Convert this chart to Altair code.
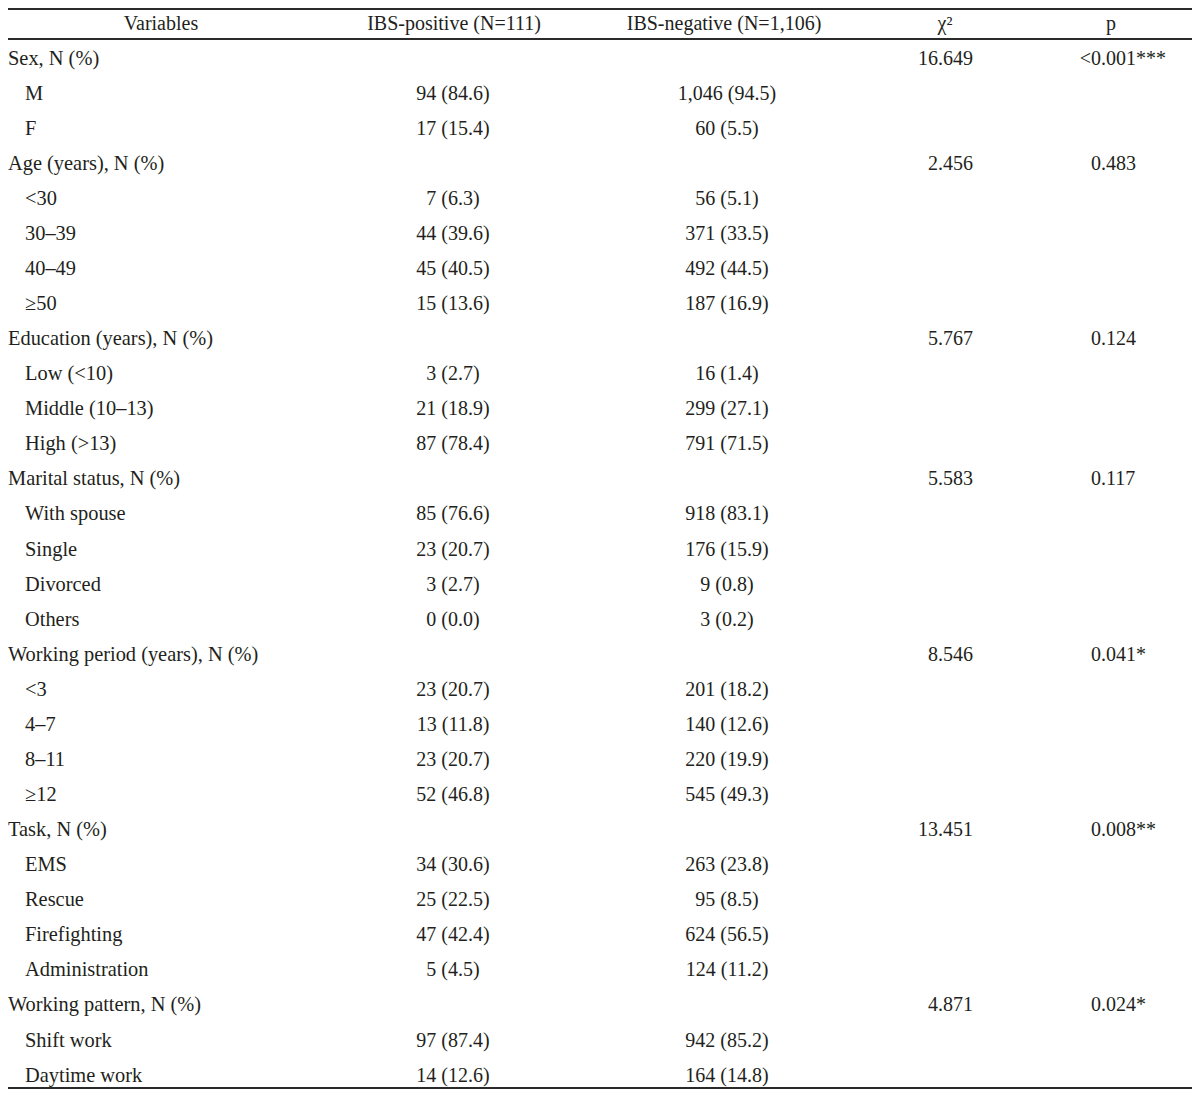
import altair as alt
import pandas as pd

# ---------------- data ----------------
variables = [
    "Sex, N (%)", "M", "F",
    "Age (years), N (%)", "<30", "30–39", "40–49", "≥50",
    "Education (years), N (%)", "Low (<10)", "Middle (10–13)", "High (>13)",
    "Marital status, N (%)", "With spouse", "Single", "Divorced", "Others",
    "Working period (years), N (%)", "<3", "4–7", "8–11", "≥12",
    "Task, N (%)", "EMS", "Rescue", "Firefighting", "Administration",
    "Working pattern, N (%)", "Shift work", "Daytime work",
]
is_group = [True, False, False,
            True, False, False, False, False,
            True, False, False, False,
            True, False, False, False, False,
            True, False, False, False, False,
            True, False, False, False, False,
            True, False, False]
pos_n = [None, 94, 17, None, 7, 44, 45, 15, None, 3, 21, 87, None, 85, 23, 3, 0,
         None, 23, 13, 23, 52, None, 34, 25, 47, 5, None, 97, 14]
pos_pct = [None, 84.6, 15.4, None, 6.3, 39.6, 40.5, 13.6, None, 2.7, 18.9, 78.4, None, 76.6, 20.7, 2.7, 0.0,
           None, 20.7, 11.8, 20.7, 46.8, None, 30.6, 22.5, 42.4, 4.5, None, 87.4, 12.6]
neg_n = [None, 1046, 60, None, 56, 371, 492, 187, None, 16, 299, 791, None, 918, 176, 9, 3,
         None, 201, 140, 220, 545, None, 263, 95, 624, 124, None, 942, 164]
neg_pct = [None, 94.5, 5.5, None, 5.1, 33.5, 44.5, 16.9, None, 1.4, 27.1, 71.5, None, 83.1, 15.9, 0.8, 0.2,
           None, 18.2, 12.6, 19.9, 49.3, None, 23.8, 8.5, 56.5, 11.2, None, 85.2, 14.8]
chi_sq = ["16.649", "", "", "2.456", "", "", "", "", "5.767", "", "", "", "5.583", "", "", "", "",
          "8.546", "", "", "", "", "13.451", "", "", "", "", "4.871", "", ""]
p_prefix = ["<", "", "", "", "", "", "", "", "", "", "", "", "", "", "", "", "",
            "", "", "", "", "", "", "", "", "", "", "", "", ""]
p_value = ["0.001***", "", "", "0.483", "", "", "", "", "0.124", "", "", "", "0.117", "", "", "", "",
           "0.041*", "", "", "", "", "0.008**", "", "", "", "", "0.024*", "", ""]
headers = ["Variables", "IBS-positive (N=111)", "IBS-negative (N=1,106)", "χ²", "p"]

# ---------------- layout (page pixel coordinates) ----------------
MARGIN = 8
CHART_W, CHART_H = 1184, 1081
BASE0, ROW_H = 29.5, 35.07          # header baseline and row pitch
COLX = {
    "group": 8, "sub": 25,
    "h0": 161, "h1": 454, "h2": 724, "h3": 945, "h4": 1111,
    "pos": 453, "neg": 727, "chi": 973, "p": 1091,
}
TEXT = "#231f20"
FONT = "Liberation Serif"
FS = 20
LABEL_FS = 20.4


def to_row(page_y):
    return (page_y - BASE0) / ROW_H


cells = []
for j, h in enumerate(headers):
    cells.append(dict(row=0, x=COLX[f"h{j}"], text=h, align="center", fs=FS))
for i, v in enumerate(variables):
    r = i + 1
    cells.append(dict(row=r, x=COLX["group" if is_group[i] else "sub"], text=v,
                      align="left", fs=LABEL_FS))
    if pos_n[i] is not None:
        cells.append(dict(row=r, x=COLX["pos"], text=f"{pos_n[i]:,} ({pos_pct[i]:.1f})", align="center", fs=FS))
        cells.append(dict(row=r, x=COLX["neg"], text=f"{neg_n[i]:,} ({neg_pct[i]:.1f})", align="center", fs=FS))
    if chi_sq[i]:
        cells.append(dict(row=r, x=COLX["chi"], text=chi_sq[i], align="right", fs=FS))
    if p_value[i]:
        cells.append(dict(row=r, x=COLX["p"], text=p_value[i], align="left", fs=FS))
    if p_prefix[i]:
        cells.append(dict(row=r, x=COLX["p"], text=p_prefix[i], align="right", fs=FS))

df = pd.DataFrame(cells)

# rules: top, under header, bottom (kept inside the visible page area)
lines = pd.DataFrame({
    "row": [to_row(9), to_row(39), to_row(1088)],
    "x0": [MARGIN, MARGIN, MARGIN],
    "x1": [MARGIN + CHART_W, MARGIN + CHART_W, MARGIN + CHART_W],
})

xs = alt.Scale(domain=[MARGIN, MARGIN + CHART_W])
ys = alt.Scale(domain=[to_row(MARGIN), to_row(MARGIN + CHART_H)], reverse=True)

layers = []
for al in ["left", "center", "right"]:
    layers.append(
        alt.Chart(df).transform_filter(alt.datum.align == al).mark_text(
            align=al, baseline="alphabetic", font=FONT, color=TEXT
        ).encode(
            x=alt.X("x:Q", scale=xs, axis=None),
            y=alt.Y("row:Q", scale=ys, axis=None),
            text="text:N",
            size=alt.Size("fs:Q", scale=None, legend=None),
        )
    )

rules = alt.Chart(lines).mark_rule(color="#2a2a2a", strokeWidth=2).encode(
    x=alt.X("x0:Q", scale=xs, axis=None),
    x2="x1:Q",
    y=alt.Y("row:Q", scale=ys, axis=None),
)

chart = alt.layer(rules, *layers).properties(
    width=CHART_W, height=CHART_H, padding=0,
    autosize=alt.AutoSizeParams(type="none"),
    background="white",
).configure_view(stroke=None)

chart.save("out.html", embed_options={"renderer": "svg", "actions": False})
